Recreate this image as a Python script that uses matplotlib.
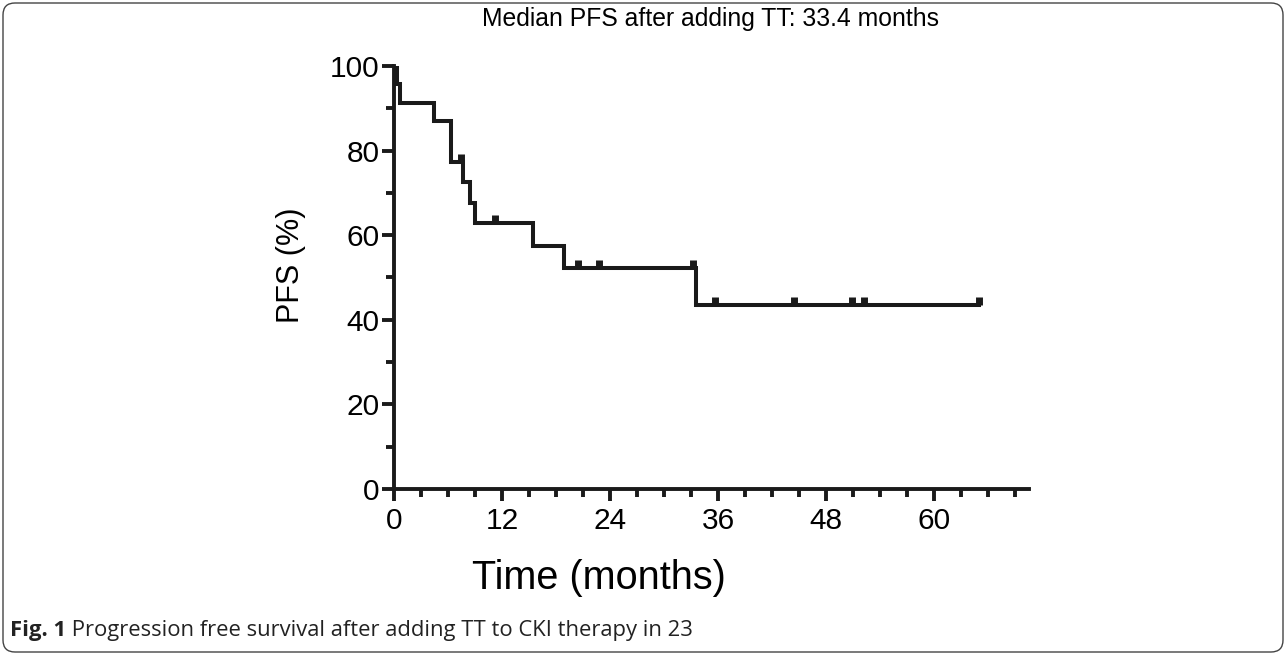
import numpy as np
import matplotlib
matplotlib.use("Agg")
import matplotlib.pyplot as plt
from matplotlib.patches import FancyBboxPatch
from matplotlib.ticker import MultipleLocator
from matplotlib import font_manager

# Kaplan-Meier steps
step_t = [0, 0.35, 0.7, 4.5, 6.3, 7.7, 8.5, 9.0, 15.4, 18.85, 33.5]
step_s = [100, 95.65, 91.3, 86.96, 77.4, 72.6, 67.7, 62.9, 57.5, 52.2, 43.5]
end_t = 65.0
# censored observations
censor_t = [0.15, 7.4, 11.2, 20.4, 22.8, 33.2, 35.7, 44.4, 50.9, 52.2, 65.0]

title = "Median PFS after adding TT: 33.4 months"
xlab = "Time (months)"
ylab = "PFS (%)"
cap_bold = "Fig. 1"
cap_rest = " Progression free survival after adding TT to CKI therapy in 23"


def surv_at(t):
    idx = np.searchsorted(step_t, t, side="right") - 1
    return step_s[idx]


plt.rcParams['font.family'] = ['Liberation Sans', 'DejaVu Sans']

names = {f.name for f in font_manager.fontManager.ttflist}
if 'Liberation Sans Narrow' in names:
    title_fam, title_size = ['Liberation Sans Narrow', 'Liberation Sans'], 21.7
else:
    title_fam, title_size = ['Liberation Sans', 'DejaVu Sans'], 17.8

fig = plt.figure(figsize=(12.87, 6.55), dpi=100)
ax = fig.add_axes([394 / 1287, 1 - 489 / 655, 634.5 / 1287, 423 / 655])

xs = list(step_t) + [end_t]
ys = list(step_s) + [step_s[-1]]
ax.step(xs, ys, where="post", color="#1a1a1a", lw=2.9, solid_joinstyle="miter", zorder=3)
cs = [surv_at(t) for t in censor_t]
ax.plot(censor_t, cs, ls="none", marker=2, ms=5.5, mew=5, color="#1a1a1a", zorder=3)

ax.set_xlim(0, 70.5)
ax.set_ylim(0, 100)
ax.xaxis.set_major_locator(MultipleLocator(12))
ax.xaxis.set_minor_locator(MultipleLocator(3))
ax.yaxis.set_major_locator(MultipleLocator(20))
ax.yaxis.set_minor_locator(MultipleLocator(10))
for s in ["top", "right"]:
    ax.spines[s].set_visible(False)
for s in ["left", "bottom"]:
    ax.spines[s].set_linewidth(2.8)
    ax.spines[s].set_color("#1a1a1a")
ax.tick_params(which="major", length=8.3, width=2.8, color="#1a1a1a", labelsize=21.5)
ax.tick_params(which="minor", length=5.6, width=2.8, color="#1a1a1a")
ax.tick_params(axis="x", which="major", pad=5)
ax.tick_params(axis="y", which="major", pad=2)

ax.set_xlabel(xlab, fontsize=28.5)
ax.xaxis.set_label_coords(205 / 634.5, -(578 - 489) / 423)
ax.xaxis.label.set_va("center")
ax.set_ylabel(ylab, fontsize=22)
ax.yaxis.set_label_coords(-(394 - 306) / 634.5, (489 - 265) / 423)

fig.text(711 / 1287, 1 - 19 / 655, title, fontsize=title_size, family=title_fam,
         ha="center", va="center")

# caption
t1 = fig.text(10 / 1287, 1 - 636 / 655, cap_bold, fontsize=15.8, fontweight="bold",
              family=["Open Sans", "DejaVu Sans"], color="#222222", va="baseline")
fig.canvas.draw()
bb = t1.get_window_extent()
fig.text(bb.x1 / 1287, 1 - 636 / 655, cap_rest, fontsize=15.8,
         family=["Open Sans", "DejaVu Sans"], color="#222222", va="baseline")

# rounded frame around the figure
frame = FancyBboxPatch((0.03, 0.03), 12.80, 6.49, boxstyle="round,pad=0,rounding_size=0.12",
                       transform=fig.dpi_scale_trans, fill=False, ec="#444444", lw=1.0)
fig.patches.append(frame)

fig.savefig("out.png", dpi=100)
